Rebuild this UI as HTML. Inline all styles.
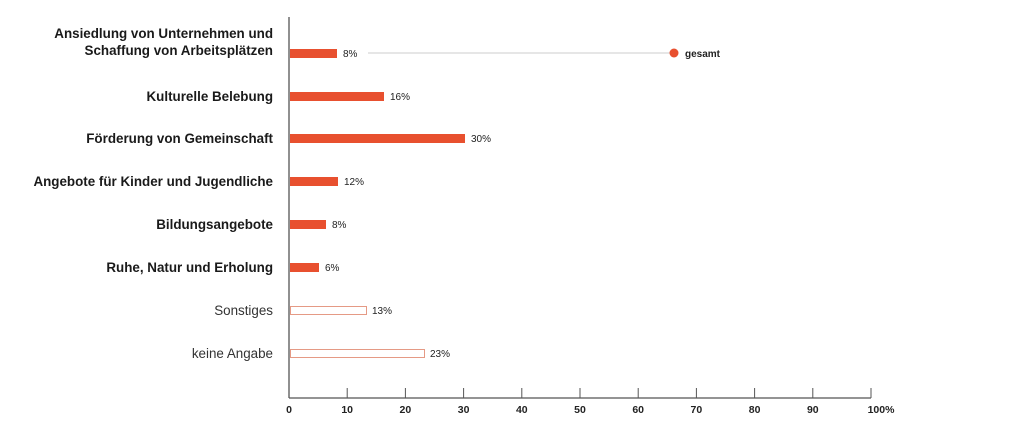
<!DOCTYPE html>
<html><head><meta charset="utf-8"><style>
body{margin:0;background:#fff;}
svg{display:block;font-family:"Liberation Sans",sans-serif;}
.l{font-size:13.4px;font-weight:bold;fill:#1a1a1a;text-anchor:end;}
.n{font-size:13.4px;fill:#333;text-anchor:end;}
.v{font-size:10px;fill:#222;}
.t{font-size:10.5px;font-weight:bold;fill:#222;text-anchor:middle;}
</style></head><body>
<svg width="1030" height="434" viewBox="0 0 1030 434">
<line x1="289" y1="17" x2="289" y2="398" stroke="#555" stroke-width="1.3"/>
<line x1="289" y1="398" x2="871" y2="398" stroke="#555" stroke-width="1.3"/>
<g stroke="#555" stroke-width="1">
<line x1="347.2" y1="388" x2="347.2" y2="398"/><line x1="405.4" y1="388" x2="405.4" y2="398"/>
<line x1="463.6" y1="388" x2="463.6" y2="398"/><line x1="521.8" y1="388" x2="521.8" y2="398"/>
<line x1="580" y1="388" x2="580" y2="398"/><line x1="638.2" y1="388" x2="638.2" y2="398"/>
<line x1="696.4" y1="388" x2="696.4" y2="398"/><line x1="754.6" y1="388" x2="754.6" y2="398"/>
<line x1="812.8" y1="388" x2="812.8" y2="398"/><line x1="871" y1="388" x2="871" y2="398"/>
</g>
<g class="t">
<text x="289" y="413">0</text><text x="347.2" y="413">10</text><text x="405.4" y="413">20</text>
<text x="463.6" y="413">30</text><text x="521.8" y="413">40</text><text x="580" y="413">50</text>
<text x="638.2" y="413">60</text><text x="696.4" y="413">70</text><text x="754.6" y="413">80</text>
<text x="812.8" y="413">90</text><text x="881" y="413">100%</text>
</g>
<text class="l" x="273" y="38">Ansiedlung von Unternehmen und</text>
<text class="l" x="273" y="55">Schaffung von Arbeitsplätzen</text>
<text class="l" x="273" y="101">Kulturelle Belebung</text>
<text class="l" x="273" y="143">Förderung von Gemeinschaft</text>
<text class="l" x="273" y="186">Angebote für Kinder und Jugendliche</text>
<text class="l" x="273" y="229">Bildungsangebote</text>
<text class="l" x="273" y="272">Ruhe, Natur und Erholung</text>
<text class="n" x="273" y="315">Sonstiges</text>
<text class="n" x="273" y="358">keine Angabe</text>
<g fill="#e8502f">
<rect x="290" y="49" width="47" height="9"/>
<rect x="290" y="92" width="94" height="9"/>
<rect x="290" y="134" width="175" height="9"/>
<rect x="290" y="177" width="48" height="9"/>
<rect x="290" y="220" width="36" height="9"/>
<rect x="290" y="263" width="29" height="9"/>
</g>
<rect x="290.5" y="306.5" width="76" height="8" fill="none" stroke="#e59a85" stroke-width="1"/>
<rect x="290.5" y="349.5" width="134" height="8" fill="none" stroke="#e59a85" stroke-width="1"/>
<g class="v">
<text x="343" y="57">8%</text><text x="390" y="100">16%</text><text x="471" y="142">30%</text>
<text x="344" y="185">12%</text><text x="332" y="228">8%</text><text x="325" y="271">6%</text>
<text x="372" y="314">13%</text><text x="430" y="357">23%</text>
</g>
<line x1="368" y1="53" x2="674" y2="53" stroke="#ccc" stroke-width="1"/>
<circle cx="674" cy="53" r="4.5" fill="#e8502f"/>
<text x="685" y="57" style="font-size:10px;font-weight:bold;fill:#222">gesamt</text>
</svg>
</body></html>
